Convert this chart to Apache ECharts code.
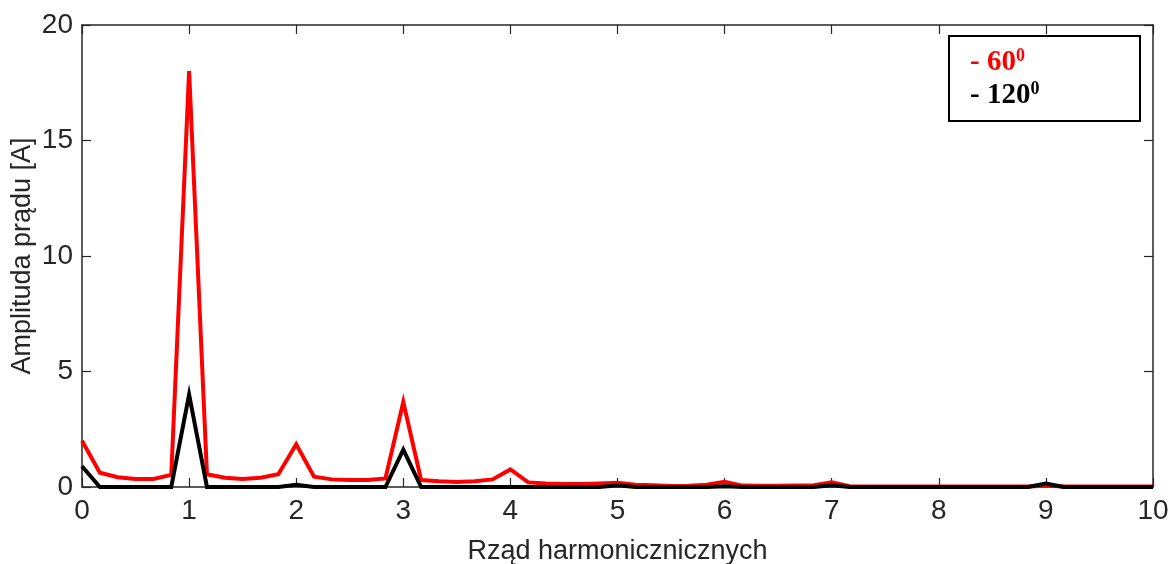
<!DOCTYPE html>
<html>
<head>
<meta charset="utf-8">
<script src="https://cdn.jsdelivr.net/npm/echarts@6/dist/echarts.min.js"></script>
<style>
  html, body { margin: 0; padding: 0; background: #fff; }
  #chart { width: 1170px; height: 564px; }
</style>
</head>
<body>
<div id="chart"></div>
<script>
// Harmonic orders sampled every 1/6 of the fundamental, 0 … 10
const sampleCount = 61;
const harmonicOrder = Array.from({ length: sampleCount }, (_, i) => i / 6);

// Current amplitude [A] for a 60° setting
const amp60 = [
  2.0, 0.62, 0.42, 0.35, 0.35, 0.52,
  18.0, 0.55, 0.40, 0.35, 0.40, 0.55,
  1.85, 0.45, 0.33, 0.30, 0.30, 0.37,
  3.68, 0.30, 0.25, 0.22, 0.25, 0.33,
  0.76, 0.20, 0.15, 0.13, 0.13, 0.15,
  0.18, 0.10, 0.08, 0.04, 0.05, 0.10,
  0.23, 0.06, 0.05, 0.05, 0.06, 0.08,
  0.20, 0.03, 0.02, 0.02, 0.02, 0.02,
  0.02, 0.02, 0.02, 0.02, 0.02, 0.02,
  0.05, 0.02, 0.02, 0.02, 0.02, 0.02,
  0.02
];

// Current amplitude [A] for a 120° setting
const amp120 = [
  0.9, 0, 0, 0, 0, 0,
  4.0, 0, 0, 0, 0, 0,
  0.1, 0, 0, 0, 0, 0,
  1.62, 0, 0, 0, 0, 0,
  0, 0, 0, 0, 0, 0,
  0.07, 0, 0, 0, 0, 0,
  0.03, 0, 0, 0, 0, 0,
  0.07, 0, 0, 0, 0, 0,
  0, 0, 0, 0, 0, 0,
  0.15, 0, 0, 0, 0, 0,
  0
];

const xTicks = [0, 1, 2, 3, 4, 5, 6, 7, 8, 9, 10];
const yTicks = [0, 5, 10, 15, 20];

const seriesNames = ['60', '120'];
const seriesColors = ['#ff0000', '#000000'];

const frame = '#262626';
const sansFont = '"Liberation Sans", Arial, sans-serif';
const serifFont = '"Liberation Serif", "Times New Roman", serif';

const pairs = (ys) => harmonicOrder.map((x, i) => [x, ys[i]]);

const chart = echarts.init(document.getElementById('chart'), null, { renderer: 'canvas' });

const baseX = {
  type: 'value',
  min: xTicks[0],
  max: xTicks[xTicks.length - 1],
  interval: 1,
  axisLine: { show: true, onZero: false, lineStyle: { color: frame, width: 1.5 } },
  axisTick: { show: true, inside: true, length: 9, lineStyle: { color: frame, width: 1.2 } },
  splitLine: { show: false }
};
const baseY = {
  type: 'value',
  min: yTicks[0],
  max: yTicks[yTicks.length - 1],
  interval: 5,
  axisLine: { show: true, onZero: false, lineStyle: { color: frame, width: 1.5 } },
  axisTick: { show: true, inside: true, length: 9, lineStyle: { color: frame, width: 1.2 } },
  splitLine: { show: false }
};

// Legend entry: "- NN" with a small raised "0" (degree mark)
function legendEntry(name, color, y) {
  return {
    type: 'text',
    x: 21,
    y: y,
    style: {
      text: '{m|- ' + name + '}{s|0}',
      rich: {
        m: { fontFamily: serifFont, fontWeight: 'bold', fontSize: 29, fill: color, lineHeight: 30, verticalAlign: 'bottom' },
        s: { fontFamily: serifFont, fontWeight: 'bold', fontSize: 18, fill: color, lineHeight: 30, verticalAlign: 'top' }
      }
    }
  };
}

chart.setOption({
  animation: false,
  backgroundColor: '#ffffff',
  grid: { left: 82, right: 17, top: 25, bottom: 77, containLabel: false, outerBoundsMode: 'none' },
  xAxis: [
    Object.assign({}, baseX, {
      position: 'bottom',
      name: 'Rząd harmonicznicznych',
      nameLocation: 'middle',
      nameGap: 51,
      nameMoveOverlap: false,
      nameTextStyle: { fontFamily: sansFont, fontSize: 27, color: frame },
      axisLabel: { show: true, margin: 10, fontFamily: sansFont, fontSize: 28, color: frame }
    }),
    Object.assign({}, baseX, { position: 'top', axisLabel: { show: false } })
  ],
  yAxis: [
    Object.assign({}, baseY, {
      position: 'left',
      name: 'Amplituda prądu [A]',
      nameLocation: 'middle',
      nameGap: 46,
      nameMoveOverlap: false,
      nameTextStyle: { fontFamily: sansFont, fontSize: 27, color: frame },
      axisLabel: { show: true, margin: 9, fontFamily: sansFont, fontSize: 28, color: frame }
    }),
    Object.assign({}, baseY, { position: 'right', axisLabel: { show: false } })
  ],
  series: [
    {
      name: seriesNames[0],
      type: 'line',
      data: pairs(amp60),
      showSymbol: false,
      lineStyle: { color: seriesColors[0], width: 4, join: 'miter' },
      z: 2
    },
    {
      name: seriesNames[1],
      type: 'line',
      data: pairs(amp120),
      showSymbol: false,
      lineStyle: { color: seriesColors[1], width: 4, join: 'miter' },
      z: 3
    }
  ],
  graphic: [
    {
      type: 'group',
      left: 948,
      top: 35,
      children: [
        {
          type: 'rect',
          shape: { x: 0, y: 0, width: 191, height: 85 },
          style: { fill: '#ffffff', stroke: '#000000', lineWidth: 2 }
        },
        legendEntry(seriesNames[0], seriesColors[0], 11),
        legendEntry(seriesNames[1], seriesColors[1], 44)
      ]
    }
  ]
});
</script>
</body>
</html>
